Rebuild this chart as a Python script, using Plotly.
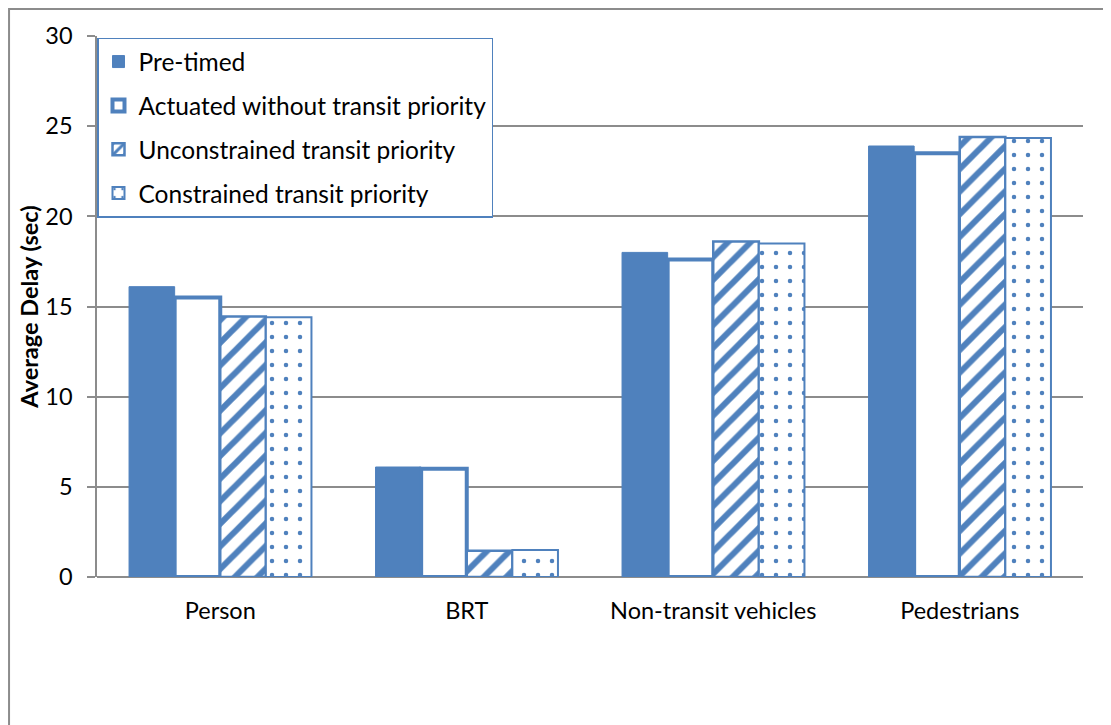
import plotly.graph_objects as go

categories = ["Person", "BRT", "Non-transit vehicles", "Pedestrians"]
pre_timed = [16.1, 6.1, 18.0, 23.9]
actuated = [15.5, 6.0, 17.6, 23.5]
unconstrained = [14.45, 1.45, 18.6, 24.4]
constrained = [14.4, 1.5, 18.5, 24.35]
y_ticks = [0, 5, 10, 15, 20, 25, 30]

BLUE = "#4f81bd"
FONT = "Lato"
FS = 23.5

fig = go.Figure()
fig.add_trace(go.Bar(name="Pre-timed", x=categories, y=pre_timed,
                     marker=dict(color=BLUE, line=dict(color=BLUE, width=1)),
                     legendgroup="a"))
fig.add_trace(go.Bar(name="Actuated without transit priority", x=categories, y=actuated,
                     marker=dict(color="white", line=dict(color=BLUE, width=4)),
                     legendgroup="b"))
fig.add_trace(go.Bar(name="Unconstrained transit priority", x=categories, y=unconstrained,
                     marker=dict(color="white", line=dict(color=BLUE, width=2.5),
                                 pattern=dict(shape="/", fgcolor=BLUE, bgcolor="white",
                                              fgopacity=1, size=16, solidity=0.38,
                                              fillmode="replace")),
                     legendgroup="c"))
fig.add_trace(go.Bar(name="Constrained transit priority", x=categories, y=constrained,
                     marker=dict(color="white", line=dict(color=BLUE, width=2),
                                 pattern=dict(shape=".", fgcolor=BLUE, bgcolor="white",
                                              fgopacity=1, size=14, solidity=0.08,
                                              fillmode="replace")),
                     legendgroup="d"))

fig.update_layout(
    width=1111, height=725,
    margin=dict(l=89, r=36, t=28, b=156, autoexpand=False),
    paper_bgcolor="white", plot_bgcolor="white",
    font=dict(family=FONT, size=FS, color="black"),
    barmode="group", bargap=0.26, bargroupgap=0,
    showlegend=True,
    legend=dict(x=0.0, y=0.997, xanchor="left", yanchor="top",
                bgcolor="white", bordercolor=BLUE, borderwidth=1.5,
                font=dict(family=FONT, size=24.5, color="black"),
                traceorder="grouped", tracegroupgap=9,
                itemwidth=30),
    xaxis=dict(showline=False, ticks="", showgrid=False, ticklabelstandoff=17,
               tickfont=dict(family=FONT, size=FS, color="black")),
    yaxis=dict(range=[0, 30], tickvals=y_ticks, ticktext=[str(v) for v in y_ticks],
               showgrid=True, gridcolor="#8c8c8c", gridwidth=1.5,
               showline=True, linecolor="#8c8c8c", linewidth=1.5,
               ticks="outside", ticklen=8, tickcolor="#8c8c8c", tickwidth=1.5,
               ticklabelstandoff=10,
               zeroline=True, zerolinecolor="#8c8c8c", zerolinewidth=1.5,
               tickfont=dict(family=FONT, size=FS, color="black"),
               title=dict(text="<b>Average Delay (sec)</b>",
                          font=dict(family=FONT, size=FS, color="black"), standoff=0)),
    shapes=[dict(type="rect", xref="paper", yref="paper",
                 x0=-0.0892, x1=1.05, y0=-0.35, y1=1.0499,
                 line=dict(color="#8c8c8c", width=2), fillcolor="rgba(0,0,0,0)",
                 layer="below")],
)

fig.write_html("out.html")
